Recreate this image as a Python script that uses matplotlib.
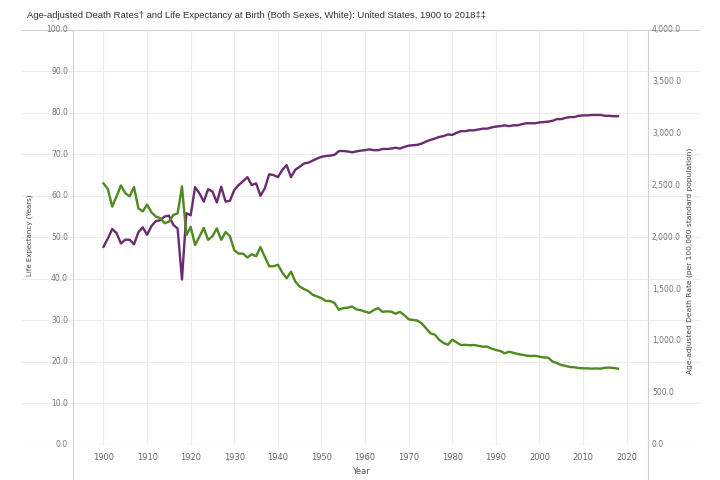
import matplotlib
matplotlib.use("Agg")
import matplotlib.pyplot as plt
from matplotlib.lines import Line2D

years = list(range(1900, 2019))

life_expectancy = [
    47.7, 49.7, 52.0, 51.0, 48.5, 49.4, 49.4, 48.3, 51.2, 52.4,
    50.6, 52.7, 53.9, 54.1, 55.0, 55.2, 53.0, 52.1, 39.8, 55.8,
    55.3, 62.1, 60.6, 58.6, 61.6, 61.0, 58.4, 62.2, 58.6, 58.8,
    61.4, 62.6, 63.5, 64.5, 62.6, 63.0, 60.0, 61.8, 65.2, 65.0,
    64.5, 66.2, 67.4, 64.5, 66.3, 67.0, 67.8, 68.0, 68.5, 69.0,
    69.4, 69.6, 69.7, 69.9, 70.8, 70.8, 70.7, 70.5, 70.7, 70.9,
    71.0, 71.2, 71.0, 71.0, 71.3, 71.3, 71.4, 71.6, 71.4, 71.8,
    72.1, 72.2, 72.3, 72.6, 73.1, 73.5, 73.8, 74.2, 74.4, 74.8,
    74.7, 75.2, 75.6, 75.6, 75.8, 75.8, 76.0, 76.2, 76.2, 76.5,
    76.7, 76.8, 77.0, 76.8, 77.0, 77.0, 77.3, 77.5, 77.5, 77.5,
    77.7, 77.8, 77.9, 78.1, 78.5, 78.5, 78.8, 79.0, 79.0, 79.3,
    79.4, 79.4, 79.5, 79.5, 79.5, 79.3, 79.3, 79.2, 79.2,
]

death_rate = [
    2520, 2465, 2295, 2395, 2500, 2425, 2395, 2485, 2280, 2250,
    2315, 2240, 2200, 2185, 2135, 2150, 2215, 2230, 2490, 2020,
    2100, 1925, 2005, 2090, 1975, 2010, 2085, 1975, 2050, 2010,
    1875, 1842, 1842, 1805, 1836, 1816, 1905, 1810, 1720, 1720,
    1735, 1660, 1604, 1668, 1572, 1524, 1500, 1480, 1444, 1428,
    1412, 1385, 1385, 1364, 1300, 1316, 1320, 1332, 1304, 1296,
    1282, 1270, 1298, 1316, 1280, 1285, 1282, 1262, 1280, 1248,
    1208, 1202, 1196, 1168, 1120, 1073, 1060, 1010, 980, 962,
    1012, 985, 960, 962, 958, 960, 952, 944, 944, 925,
    912, 903, 880, 895, 885, 874, 866, 858, 854, 856,
    847, 840, 838, 800, 785, 767, 758, 748, 745, 738,
    735, 735, 732, 734, 732, 740, 742, 738, 732,
]

x_ticks = list(range(1900, 2021, 10))
left_ticks = [0, 10, 20, 30, 40, 50, 60, 70, 80, 90, 100]
right_ticks = [0, 500, 1000, 1500, 2000, 2500, 3000, 3500, 4000]

title = ("Age-adjusted Death Rates\u2020 and Life Expectancy at Birth "
         "(Both Sexes, White): United States, 1900 to 2018\u2021\u2021")

W, H = 720, 480
fig = plt.figure(figsize=(7.2, 4.8), dpi=100)
fig.patch.set_facecolor("white")

px_l, px_r, py_t, py_b = 22, 700, 30, 444.5
ax = fig.add_axes([px_l / W, 1 - py_b / H, (px_r - px_l) / W, (py_b - py_t) / H])

# year <-> pixel: 1900 at 103.5 px, 4.36 px per year
def px_to_year(p):
    return 1900 + (p - 103.5) / 4.36

ax.set_xlim(px_to_year(px_l), px_to_year(px_r))
ax.set_ylim(0, 100)
for s in ax.spines.values():
    s.set_visible(False)

grid_c = "#ececec"
for v in left_ticks:
    ax.axhline(v, color="#cfcfcf" if v in (0, 100) else grid_c, lw=0.8, zorder=0)
for xv in x_ticks:
    ax.axvline(xv, color=grid_c, lw=0.8, zorder=0)

ax.set_xticks(x_ticks)
ax.set_xticklabels([str(x) for x in x_ticks], fontsize=6, color="#666666")
ax.tick_params(axis="x", length=0, pad=6)
ax.set_yticks([])
ax.set_xlabel("Year", fontsize=6, color="#555555", labelpad=4)

ax2 = ax.twinx()
ax2.set_ylim(0, 4000)
for s in ax2.spines.values():
    s.set_visible(False)
ax2.set_yticks([])

ax.plot(years, life_expectancy, color="#6b2a72", lw=1.7, zorder=3, solid_joinstyle="round")
ax2.plot(years, death_rate, color="#4e8a1e", lw=1.7, zorder=3, solid_joinstyle="round")

# tick labels inside the plot frame
lx = (68 - px_l) / (px_r - px_l)
for v in left_ticks:
    ax.text(lx, v, f"{v:.1f}", transform=ax.get_yaxis_transform(),
            ha="right", va="center", fontsize=5.5, color="#777777")
rx = (652 - px_l) / (px_r - px_l)
for v in right_ticks:
    ax2.text(rx, v, f"{v:,.1f}", transform=ax2.get_yaxis_transform(),
             ha="left", va="center", fontsize=5.5, color="#777777")

# separator lines
for xp in (73, 648):
    fig.add_artist(Line2D([xp / W, xp / W], [0, 1 - py_t / H],
                          transform=fig.transFigure, color="#d0d0d0", lw=0.8))

fig.text(30 / W, 1 - 235 / H, "Life Expectancy (Years)", rotation=90,
         ha="center", va="center", fontsize=5, color="#444444")
fig.text(690 / W, 1 - 261 / H, "Age-adjusted Death Rate (per 100,000 standard population)",
         rotation=90, ha="center", va="center", fontsize=5.4, color="#444444")

fig.text(27 / W, 1 - 15 / H, title, ha="left", va="center", fontsize=6.8,
         color="#333333", family=["Liberation Sans", "DejaVu Sans"])

fig.savefig("out.png", dpi=100)
